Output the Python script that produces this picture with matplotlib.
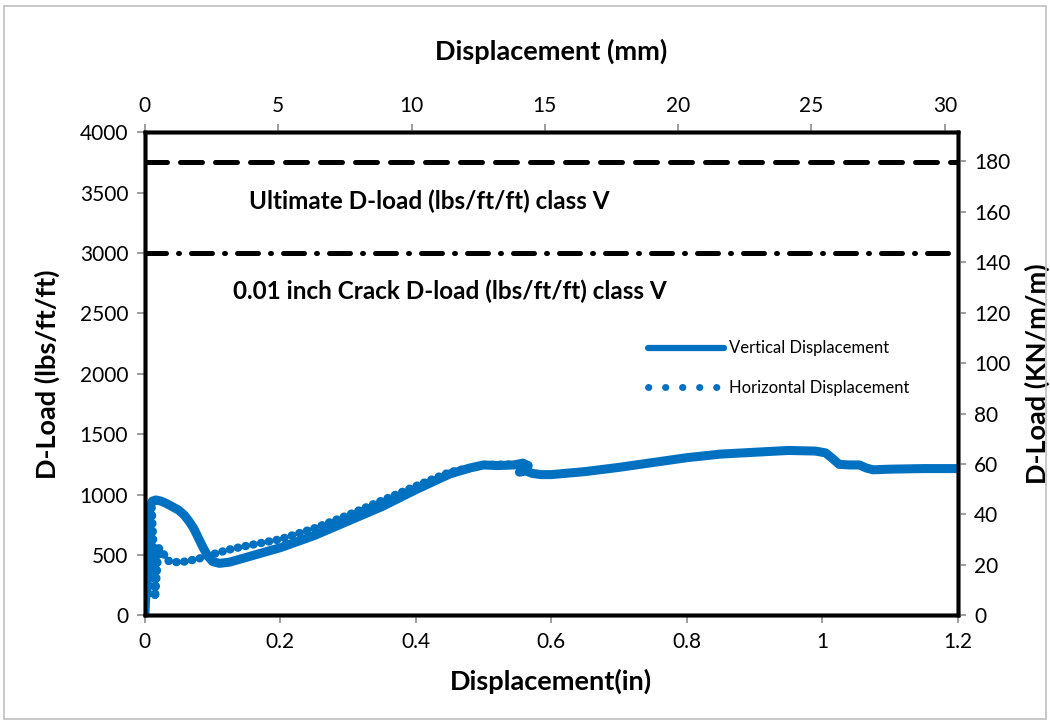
import numpy as np
import matplotlib
matplotlib.use('Agg')
import matplotlib.pyplot as plt
from matplotlib.patches import Rectangle
from matplotlib.lines import Line2D

plt.rcParams['font.family'] = ['Lato', 'DejaVu Sans']

blue = '#0070C0'

# vertical displacement (in) vs D-load (lbs/ft/ft)
vert_x = [0, 0.002, 0.004, 0.006, 0.008, 0.011, 0.016, 0.024, 0.032, 0.042, 0.05, 0.058,
          0.065, 0.072, 0.079, 0.086, 0.093, 0.1, 0.11, 0.125, 0.15, 0.2, 0.25, 0.3, 0.35,
          0.4, 0.45, 0.48, 0.5, 0.52, 0.545, 0.558, 0.566, 0.562, 0.553, 0.56, 0.572, 0.585,
          0.6, 0.65, 0.7, 0.75, 0.8, 0.85, 0.9, 0.95, 0.99, 1.005, 1.015, 1.025, 1.04, 1.055,
          1.065, 1.075, 1.1, 1.15, 1.2]
vert_y = [0, 250, 600, 820, 910, 945, 955, 945, 925, 895, 870, 830,
          780, 720, 640, 560, 490, 445, 430, 440, 480, 560, 660, 780, 900,
          1040, 1170, 1220, 1245, 1240, 1245, 1260, 1240, 1200, 1185, 1200, 1175, 1165,
          1165, 1190, 1225, 1265, 1305, 1335, 1350, 1365, 1360, 1345, 1300, 1250, 1245, 1245,
          1220, 1205, 1210, 1215, 1215]

# horizontal displacement (in) vs D-load (lbs/ft/ft)
horz_x = [0, 0.002, 0.004, 0.005, 0.006, 0.008, 0.01, 0.012, 0.015, 0.02, 0.027, 0.035,
          0.045, 0.06, 0.08, 0.1, 0.125, 0.15, 0.2, 0.25, 0.3, 0.35, 0.4, 0.45, 0.5, 0.55]
horz_y = [0, 350, 150, 500, 750, 880, 900, 650, 140, 560, 513, 450,
          440, 445, 470, 505, 545, 575, 630, 720, 830, 950, 1070, 1185, 1245, 1250]

ultimate_load = 3750
crack_load = 3000
x_max = 1.2
y_max = 4000
lbs_to_kn = 0.04788   # lbs/ft/ft -> kN/m/m
in_to_mm = 25.4

fig = plt.figure(figsize=(10.5, 7.23), dpi=100)
fig.patches.append(Rectangle((0.004, 0.006), 0.992, 0.986, transform=fig.transFigure,
                             fill=False, edgecolor='#bfbfbf', linewidth=1.2))
ax = fig.add_axes([0.138, 0.149, 0.774, 0.668])

ax.axhline(ultimate_load, color='k', lw=3.6, linestyle=(0, (4.4, 2.6)),
           dash_capstyle='round')
ax.axhline(crack_load, color='k', lw=3.6, linestyle=(0, (4.2, 2.4, 0.2, 2.4)),
           dash_capstyle='round')

# dense dotted trace for the horizontal gauge
ax.plot(horz_x, horz_y, color=blue, lw=6, linestyle=(0, (0.05, 0.9)),
        dash_capstyle='round', zorder=3)
ax.plot(vert_x, vert_y, color=blue, lw=6.5, solid_capstyle='round',
        solid_joinstyle='round', zorder=4)

ax.text(0.42, 3430, 'Ultimate D-load (lbs/ft/ft) class V', fontsize=17.5,
        fontweight='bold', ha='center', va='center')
ax.text(0.45, 2680, '0.01 inch Crack D-load (lbs/ft/ft) class V', fontsize=17.5,
        fontweight='bold', ha='center', va='center')

handles = [Line2D([], [], color=blue, lw=4.5, solid_capstyle='round'),
           Line2D([], [], color=blue, lw=5, linestyle=(0, (0.05, 2.4)),
                  dash_capstyle='round')]
ax.legend(handles, ['Vertical Displacement', 'Horizontal Displacement'],
          loc='upper left', bbox_to_anchor=(0.6, 0.6), frameon=False,
          fontsize=12, handlelength=4.6, handletextpad=0.3, labelspacing=1.4)

ax.set_xlim(0, x_max)
ax.set_ylim(0, y_max)
ax.set_xticks(np.arange(0, 1.21, 0.2))
ax.set_xticklabels(['0', '0.2', '0.4', '0.6', '0.8', '1', '1.2'])
ax.set_yticks(np.arange(0, 4001, 500))
ax.set_xlabel('Displacement(in)', fontsize=19.5, fontweight='bold', labelpad=12)
ax.set_ylabel('D-Load (lbs/ft/ft)', fontsize=19.5, fontweight='bold', labelpad=14)

ax_top = ax.twiny()
ax_top.set_xlim(0, x_max * in_to_mm)
ax_top.set_xticks(np.arange(0, 31, 5))
ax_top.set_xlabel('Displacement (mm)', fontsize=19.5, fontweight='bold', labelpad=26)

ax_r = ax.twinx()
ax_r.set_ylim(0, y_max * lbs_to_kn)
ax_r.set_yticks(np.arange(0, 181, 20))
ax_r.set_ylabel('D-Load (KN/m/m)', fontsize=19.5, fontweight='bold', labelpad=10)

for a in (ax, ax_top, ax_r):
    a.tick_params(labelsize=15, color='#8c8c8c', width=1.2, length=6, direction='out', pad=6)
    for s in a.spines.values():
        s.set_linewidth(2.5)
        s.set_color('k')

fig.savefig('out.png', dpi=100)
